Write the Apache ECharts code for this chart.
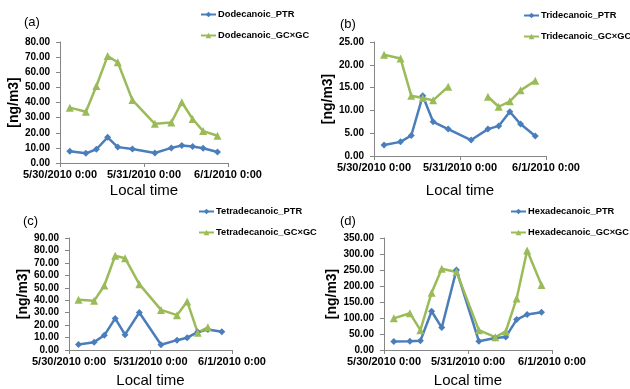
<!DOCTYPE html>
<html>
<head>
<meta charset="utf-8">
<script src="https://cdn.jsdelivr.net/npm/echarts@6/dist/echarts.min.js"></script>
<style>html,body{margin:0;padding:0;background:#fff}#c{width:630px;height:389px}</style>
</head>
<body>
<div id="c"></div>
<script>
// Sample times (hours after 5/30/2010 0:00)
const hours = [2.8, 7.4, 10.4, 13.6, 16.5, 20.7, 27.1, 31.8, 34.8, 37.9, 40.9, 45.0];
const xTickLabels = {0: '5/30/2010 0:00', 24: '5/31/2010 0:00', 48: '6/1/2010 0:00'};

const dodecPTR  = [7.7, 6.4, 9.1, 17.0, 10.5, 9.3, 6.6, 10.0, 11.6, 10.9, 9.8, 7.3];
const dodecGC   = [36.6, 33.9, 50.9, 70.7, 66.6, 41.6, 25.9, 26.8, 40.2, 29.1, 21.1, 18.0];
const tridecPTR = [2.4, 3.1, 4.5, 13.2, 7.5, 5.9, 3.5, 5.9, 6.6, 9.7, 7.0, 4.4];
const tridecGC  = [22.2, 21.4, 13.2, 12.7, 12.2, 15.2, null, 13.0, 10.8, 12.0, 14.4, 16.5];
const tetraPTR  = [4.5, 6.3, 11.8, 25.4, 12.3, 30.1, 4.2, 7.9, 9.9, 14.4, 16.5, 14.7];
const tetraGC   = [40.3, 39.5, 51.8, 75.7, 73.8, 52.9, 32.2, 28.0, 39.0, 13.9, 18.3, null];
const hexaPTR   = [26.5, 27.6, 28.6, 121, 70, 250, 27.6, 37.8, 40.8, 95, 111, 118];
const hexaGC    = [99, 115, 62, 179, 254, 244, 62, 40, 58, 161, 311, 203];

const panels = [
  {tag: '(a)', name: 'Dodecanoic', ptr: dodecPTR, gc: dodecGC, ymax: 80, yint: 10,
   grid: {left: 60, top: 42, width: 168, height: 121}, nameGapX: 20, nameGapY: 39,
   legend: {left: 200, top: 10}, tagPos: [24, 24]},
  {tag: '(b)', name: 'Tridecanoic', ptr: tridecPTR, gc: tridecGC, ymax: 25, yint: 5,
   grid: {left: 374, top: 42, width: 172, height: 114}, nameGapX: 27, nameGapY: 39,
   legend: {left: 523, top: 11}, tagPos: [340, 26]},
  {tag: '(c)', name: 'Tetradecanoic', ptr: tetraPTR, gc: tetraGC, ymax: 90, yint: 10,
   grid: {left: 69, top: 238, width: 163, height: 115}, nameGapX: 23, nameGapY: 39,
   legend: {left: 198, top: 207}, tagPos: [23, 223]},
  {tag: '(d)', name: 'Hexadecanoic', ptr: hexaPTR, gc: hexaGC, ymax: 350, yint: 50,
   grid: {left: 384, top: 238, width: 168, height: 115}, nameGapX: 23, nameGapY: 39,
   legend: {left: 510, top: 207}, tagPos: [340, 223]}
];

const blue = '#4A7EBB';
const green = '#9BBB59';
const axisColor = '#868686';
const font = 'Liberation Sans, Arial, sans-serif';

const option = {
  backgroundColor: '#fff',
  animation: false,
  grid: [], xAxis: [], yAxis: [], series: [], legend: [], graphic: []
};

panels.forEach((p, i) => {
  option.grid.push(Object.assign({}, p.grid));
  option.xAxis.push({
    type: 'value', gridIndex: i, min: 0, max: 48, interval: 24,
    name: 'Local time', nameLocation: 'middle', nameGap: p.nameGapX,
    nameTextStyle: {fontFamily: font, fontSize: 15, color: '#000'},
    axisLine: {show: true, lineStyle: {color: axisColor, width: 1}},
    axisTick: {show: true, length: 4, lineStyle: {color: axisColor}},
    splitLine: {show: false},
    axisLabel: {fontFamily: font, fontSize: 11, fontWeight: 'bold', color: '#000', margin: 6,
      formatter: v => xTickLabels[v] || ''}
  });
  option.yAxis.push({
    type: 'value', gridIndex: i, min: 0, max: p.ymax, interval: p.yint,
    name: '[ng/m3]', nameLocation: 'middle', nameGap: p.nameGapY,
    nameTextStyle: {fontFamily: font, fontSize: 14, fontWeight: 'bold', color: '#000'},
    axisLine: {show: true, lineStyle: {color: axisColor, width: 1}},
    axisTick: {show: true, length: 4, lineStyle: {color: axisColor}},
    splitLine: {show: false},
    axisLabel: {fontFamily: font, fontSize: 10, fontWeight: 'bold', color: '#000', margin: 10,
      formatter: v => v.toFixed(2)}
  });
  const ptrName = p.name + '_PTR';
  const gcName = p.name + '_GC×GC';
  option.series.push({
    name: ptrName, type: 'line', xAxisIndex: i, yAxisIndex: i,
    data: hours.map((h, k) => [h, p.ptr[k]]),
    symbol: 'diamond', symbolSize: 7, connectNulls: false,
    lineStyle: {color: blue, width: 2.5}, itemStyle: {color: blue}
  });
  option.series.push({
    name: gcName, type: 'line', xAxisIndex: i, yAxisIndex: i,
    data: hours.map((h, k) => [h, p.gc[k]]),
    symbol: 'triangle', symbolSize: 8, connectNulls: false,
    lineStyle: {color: green, width: 2.5}, itemStyle: {color: green}
  });
  option.legend.push({
    data: [ptrName, gcName], orient: 'vertical',
    left: p.legend.left, top: p.legend.top, itemWidth: 15, itemHeight: 7, itemGap: 12,
    padding: 0,
    textStyle: {fontFamily: font, fontSize: 9.3, fontWeight: 'bold', color: '#000', padding: [0, 0, 0, -3]}
  });
  option.graphic.push({
    type: 'text', left: p.tagPos[0], top: p.tagPos[1] - 8,
    style: {text: p.tag, font: '13px ' + font, fill: '#000'}
  });
});

const chart = echarts.init(document.getElementById('c'));
chart.setOption(option);
</script>
</body>
</html>
